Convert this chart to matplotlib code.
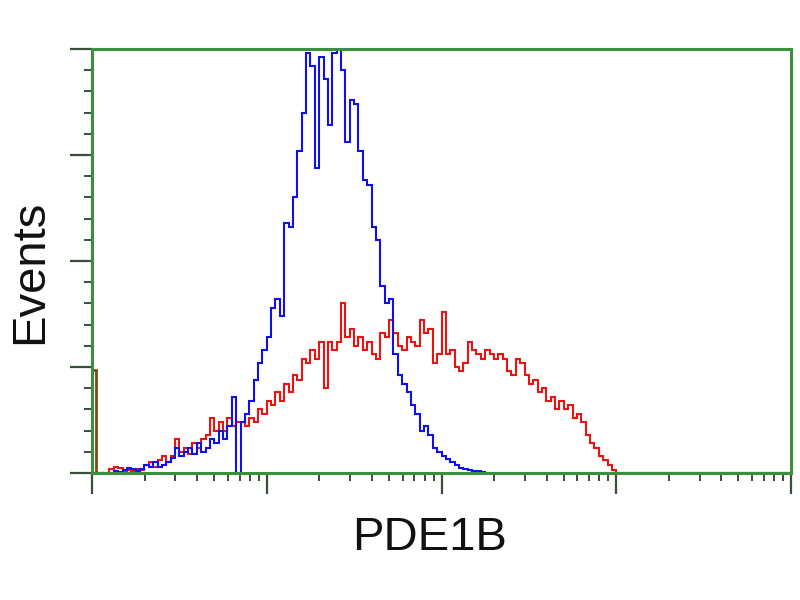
import numpy as np
import matplotlib
matplotlib.use("Agg")
import matplotlib.pyplot as plt
from matplotlib.ticker import MultipleLocator, LogLocator, NullFormatter

# ---- data (channel counts, % of full scale) ----
n_channels = 160
x_min, x_max = 1, 1e4

edge_start = 0
edge_counts = [24.3]

blue_start = 5
blue_counts = [0.5, 0.3, 0.8, 1.2, 1.0, 0.5, 1.0, 2.0, 1.5, 2.5,
               1.5, 2.0, 2.5, 3.5, 6, 4, 5, 6, 4.5, 7,
               5, 6, 8, 7, 10, 8, 11, 18, 0, 12,
               14, 17, 22, 26, 29, 32, 39, 41, 37, 59,
               58, 65, 76, 85, 99, 96, 72, 98, 93, 82,
               99, 100, 95, 78, 88, 87, 76, 69, 68, 58,
               55, 44, 40, 41, 28, 23, 21, 19, 16, 14,
               10, 11, 9, 6, 5, 4, 3.2, 2.6, 1.9, 1.2,
               1.0, 0.6, 0.5, 0.4, 0.2]

red_start = 4
red_counts = [1.0, 1.5, 1.2, 0.3, 0.8, 0.5, 1.0, 0.8, 1.8, 2.5,
              1.5, 3, 4, 2.5, 4, 8, 5, 6, 4.5, 7,
              6, 8, 9, 13, 10, 12, 10, 13, 11, 12,
              12, 11, 13, 12, 15, 14, 17, 16, 19, 17,
              21, 19, 23, 22, 27, 26, 29, 27, 31, 20,
              31, 29, 31, 40, 32, 34, 30, 32, 29, 31,
              28, 27, 33, 32, 36, 33, 30, 29, 32, 31,
              30, 36, 33, 34, 26, 28, 38, 28, 29, 25,
              24, 26, 31, 29, 28, 27, 29, 28, 27, 28,
              27, 24, 23, 27, 26, 23, 21, 22, 19, 20,
              17, 18, 15, 17, 15, 16, 13, 14, 12, 9,
              7, 6, 4, 3, 2, 0.8]

x_label = "PDE1B"
y_label = "Events"


def full(start, vals):
    arr = np.zeros(n_channels)
    arr[start:start + len(vals)] = vals
    return arr


edges = np.logspace(np.log10(x_min), np.log10(x_max), n_channels + 1)

plt.rcParams["font.family"] = ["Liberation Sans", "DejaVu Sans"]
fig = plt.figure(figsize=(8, 6), dpi=100)
ax = fig.add_axes([92 / 800, 1 - 473 / 600, (791 - 92) / 800, (473 - 49) / 600])

ax.stairs(full(red_start, red_counts), edges, baseline=0, color="#ee1111", lw=1.5)
ax.stairs(full(blue_start, blue_counts), edges, baseline=0, color="#1010ee", lw=1.5)
ax.stairs(full(edge_start, edge_counts), edges, baseline=0, color="#7a4a1a", lw=2.0)

ax.set_xscale("log")
ax.set_xlim(x_min, x_max)
ax.set_ylim(0, 100)

green = "#3c8f3c"
for s in ax.spines.values():
    s.set_color(green)
    s.set_linewidth(2.2)

ax.xaxis.set_major_locator(LogLocator(base=10))
ax.xaxis.set_minor_locator(LogLocator(base=10, subs=np.arange(2, 10)))
ax.xaxis.set_minor_formatter(NullFormatter())
ax.yaxis.set_major_locator(MultipleLocator(25))
ax.yaxis.set_minor_locator(MultipleLocator(5))

tick_col = "#3a4f3a"
ax.tick_params(axis="both", which="both", direction="out", colors=tick_col,
               labelleft=False, labelbottom=False, top=False, right=False)
ax.tick_params(axis="x", which="major", length=15, width=1.6)
ax.tick_params(axis="x", which="minor", length=6, width=1.4)
ax.tick_params(axis="y", which="major", length=16, width=1.6)
ax.tick_params(axis="y", which="minor", length=6, width=1.4)

fig.text(430 / 800, 1 - 550 / 600, x_label, ha="center", va="baseline",
         fontsize=34, color="#111111")
fig.text(30 / 800, 1 - 272 / 600, y_label, ha="center", va="center",
         rotation=90, fontsize=34, color="#111111")

fig.savefig("out.png", dpi=100, facecolor="white")
